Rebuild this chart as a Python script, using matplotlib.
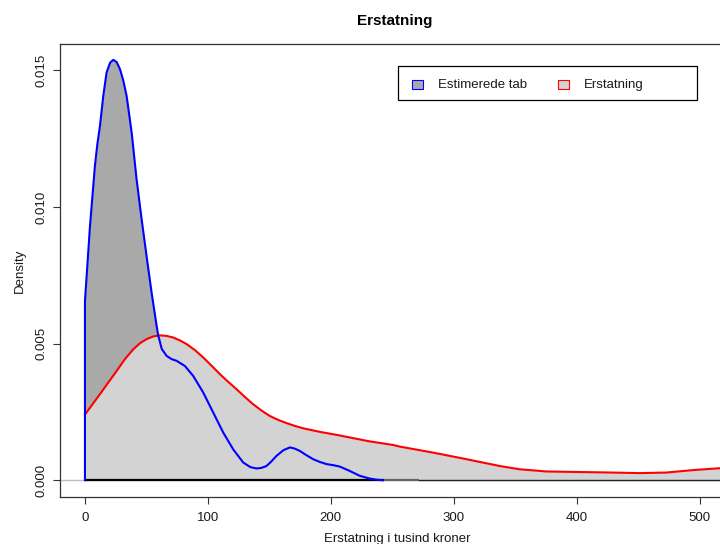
import matplotlib
matplotlib.use("Agg")
import matplotlib.pyplot as plt
from matplotlib.patches import Rectangle

plt.rcParams['font.family'] = ['Liberation Sans', 'DejaVu Sans']

# Estimated loss density (blue)
tab_x = [0, 0.01, 4.1, 8.1, 10.1, 12.2, 14.9, 17.6, 20.5, 23, 25.8, 28.5, 31.2, 33.9, 38, 42, 46.1, 50.1,
         54.2, 58.3, 59.6, 62.5, 66.4, 70.5, 74.5, 81.3, 88, 96.2, 104.3, 112.4, 120.6, 128.7,
         134.5, 139.6, 143.5, 147.7, 151.5, 155.8, 161.5, 166.7, 170.5, 174.8, 180, 185.6, 191,
         196.5, 202, 207.3, 215.4, 223.6, 231.7, 237, 242.5]
tab_y = [0, 0.00656, 0.0093, 0.0115, 0.0123, 0.01296, 0.01406, 0.01492, 0.01528, 0.01538, 0.01530,
         0.01504, 0.01462, 0.01406, 0.01272, 0.01101, 0.00955, 0.00821, 0.00687, 0.00565,
         0.00530, 0.00480, 0.00455, 0.00443, 0.00437, 0.00418, 0.00382, 0.00321, 0.00248,
         0.00175, 0.00113, 0.00065, 0.00048, 0.00043, 0.00045, 0.00052, 0.00068, 0.00089,
         0.00110, 0.00120, 0.00116, 0.00107, 0.00092, 0.00077, 0.00067, 0.00059, 0.00055,
         0.00050, 0.00034, 0.00016, 0.00006, 0.00002, 0.0]

# Compensation density (red)
erst_x = [0, 12.2, 25.8, 32.5, 39.3, 45, 50.1, 55.5, 61, 66.5, 71.8, 77, 82.7, 89.5, 96.2, 103,
          109.8, 116.5, 123.3, 130, 136.8, 143.6, 150.4, 157, 164, 170.5, 177.5, 191, 204.6,
          218.1, 231.7, 250.7, 256.1, 283.2, 310.3, 321, 337.4, 353.7, 375.4, 402.4, 429.5,
          451.2, 472.9, 494.6, 513.6, 530]
erst_y = [0.00240, 0.00315, 0.00400, 0.00443, 0.00479, 0.00502, 0.00516, 0.00526, 0.00530,
          0.00528, 0.00522, 0.00512, 0.00498, 0.00476, 0.00449, 0.00419, 0.00388, 0.00360,
          0.00333, 0.00305, 0.00278, 0.00255, 0.00235, 0.00221, 0.00209, 0.00199, 0.00190,
          0.00177, 0.00166, 0.00154, 0.00142, 0.00129, 0.00123, 0.00101, 0.00077, 0.00067,
          0.00052, 0.00040, 0.00032, 0.00030, 0.00028, 0.00026, 0.00028, 0.00037, 0.00043,
          0.00048]

x_ticks = [0, 100, 200, 300, 400, 500]
y_ticks = [0.000, 0.005, 0.010, 0.015]
y_tick_labels = ["0.000", "0.005", "0.010", "0.015"]
legend_labels = ["Estimerede tab", "Erstatning"]

fig = plt.figure(figsize=(7.2, 5.44), dpi=100)
ax = fig.add_axes([60/720, 47/544, 674/720, 453/544])
ax.set_xlim(-20.3, 528)
ax.set_ylim(-0.000614, 0.01596)

ax.axhline(0, color='#BEBEBE', lw=1, zorder=0.5)

ax.fill_between(tab_x, tab_y, 0, color='#A9A9A9', lw=0, zorder=1)
ax.fill_between(erst_x + [540], erst_y + [erst_y[-1]], 0, color='#D3D3D3', lw=0, zorder=2)
ax.plot([0, 243], [0, 0], color='black', lw=1.6, zorder=3, solid_capstyle='butt')
ax.plot([243, 272], [0, 0], color='#666666', lw=1.6, zorder=3, solid_capstyle='butt')
ax.plot([272, 540], [0, 0], color='#222222', lw=1.0, zorder=3)
ax.plot(erst_x, erst_y, color='red', lw=1.5, zorder=4)
ax.plot(tab_x, tab_y, color='blue', lw=1.5, zorder=5)

ax.set_xticks(x_ticks)
ax.set_xticklabels([str(v) for v in x_ticks])
ax.set_yticks(y_ticks)
ax.set_yticklabels(y_tick_labels, rotation=90, va='center')
ax.tick_params(axis='both', direction='out', length=5, width=0.8, color='#333333',
               labelsize=9.5, labelcolor='#1a1a1a')
ax.tick_params(axis='x', pad=6)
ax.tick_params(axis='y', pad=4)
for s in ax.spines.values():
    s.set_color('#333333')
    s.set_linewidth(0.9)

ax.set_xlabel("Erstatning i tusind kroner", fontsize=9.5, color='#1a1a1a', labelpad=6)
ax.set_ylabel("Density", fontsize=9.5, color='#1a1a1a', labelpad=7)
fig.text(395/720, 1 - 21/544, "Erstatning", ha='center', va='center', fontsize=11,
         fontweight='bold')

# legend drawn in figure pixel coordinates
def fx(px):
    return px / 720
def fy(py):
    return 1 - py / 544

fig.patches.append(Rectangle((fx(398), fy(100)), fx(697) - fx(398), fy(66) - fy(100),
                             transform=fig.transFigure, facecolor='white', edgecolor='black',
                             lw=0.9, zorder=10))
fig.patches.append(Rectangle((fx(412), fy(89)), fx(423) - fx(412), fy(80) - fy(89),
                             transform=fig.transFigure, facecolor='#A9A9A9', edgecolor='blue',
                             lw=0.8, zorder=11))
fig.patches.append(Rectangle((fx(558), fy(89)), fx(569) - fx(558), fy(80) - fy(89),
                             transform=fig.transFigure, facecolor='#D3D3D3', edgecolor='red',
                             lw=0.8, zorder=11))
fig.text(fx(438), fy(85), legend_labels[0], ha='left', va='center', fontsize=9.5,
         color='#1a1a1a', zorder=12)
fig.text(fx(584), fy(85), legend_labels[1], ha='left', va='center', fontsize=9.5,
         color='#1a1a1a', zorder=12)

fig.savefig("out.png", dpi=100)
